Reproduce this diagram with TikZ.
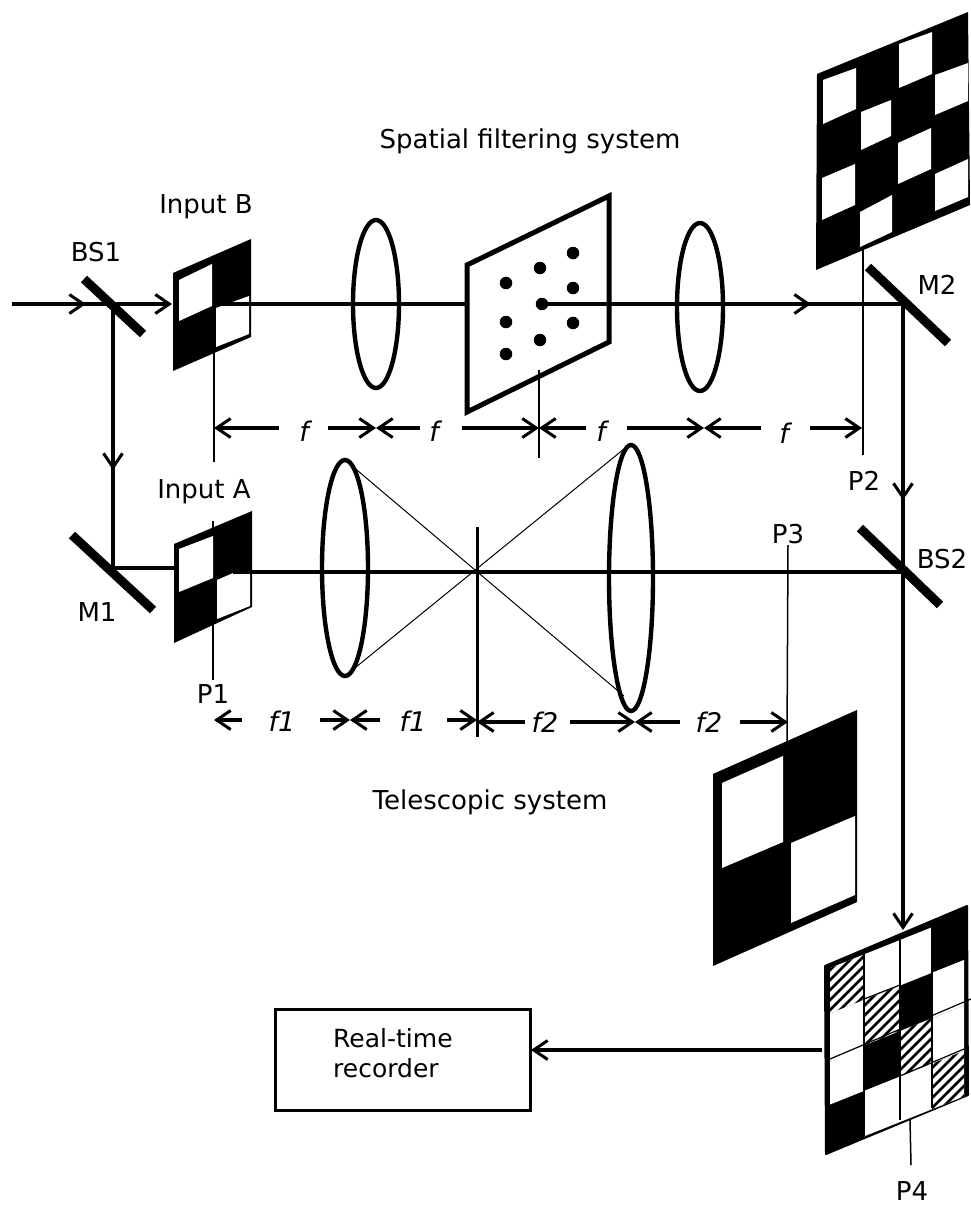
\documentclass[tikz,border=0pt]{standalone}
\usepackage{fontspec}
\setmainfont{DejaVu Sans}
\usetikzlibrary{arrows.meta}
\tikzset{
  beam/.style={line width=3.5pt,black},
  thinmark/.style={line width=1.5pt,black},
  ray/.style={line width=1pt,black},
  arr/.style={line width=3.5pt,-{Straight Barb[length=14pt,width=19pt,line width=3pt]}},
  mirror/.style={line width=9pt,black},
  lens/.style={line width=4.4pt,black},
  lbl/.style={font=\fontsize{26}{30}\selectfont,inner sep=0pt},
  reclbl/.style={font=\fontsize{25}{30}\selectfont,inner sep=0pt},
  it/.style={font=\fontsize{27}{30}\selectfont\itshape,inner sep=0pt},
  whitecell/.style={fill=white,draw=none},
  blackcell/.style={fill=black,draw=none},
  dot/.style={circle,fill=black,inner sep=0pt,minimum size=12.5pt}
}
\newcommand{\pcell}[4]{% xl xr row style
  \path[#4] ({#1},{968+45.5*#3-0.4*(#1-830)}) -- ({#2},{968+45.5*#3-0.4*(#2-830)})
    -- ({#2},{968+45.5*(#3+1)-0.4*(#2-830)}) -- ({#1},{968+45.5*(#3+1)-0.4*(#1-830)}) -- cycle;}
\newcommand{\hcell}[3]{% hatched cell
  \pcell{#1}{#2}{#3}{whitecell}
  \begin{scope}
    \clip ({#1},{968+45.5*#3-0.4*(#1-830)}) -- ({#2},{968+45.5*#3-0.4*(#2-830)})
      -- ({#2},{968+45.5*(#3+1)-0.4*(#2-830)}) -- ({#1},{968+45.5*(#3+1)-0.4*(#1-830)}) -- cycle;
    \foreach \c in {1750,1760,...,2150}{\draw[line width=2.6pt] (800,\c-800) -- (1000,\c-1000);}
  \end{scope}}
\begin{document}
\begin{tikzpicture}[x=1pt,y=-1pt]
\useasboundingbox (0,0) rectangle (971,1205);
\fill[white] (0,0) rectangle (971,1205);

% named points
\coordinate (inL) at (12,304);
\coordinate (a1) at (86,304);
\coordinate (bs1c) at (113,304);
\coordinate (a2) at (172,304);
\coordinate (bEx) at (216,304);
\coordinate (sfL) at (467,304);
\coordinate (sfC) at (542,304);
\coordinate (a3) at (811,304);
\coordinate (m2c) at (903,304);
\coordinate (a4) at (903,500);
\coordinate (bs2c) at (903,572);
\coordinate (a5) at (903,930);
\coordinate (a6) at (113,470);
\coordinate (m1c) at (113,568);
\coordinate (aIn) at (174,568);
\coordinate (aEx) at (233,572);
\coordinate (focus) at (477,571);
\coordinate (r1a) at (345,460);
\coordinate (r1b) at (624,696);
\coordinate (r2a) at (345,676);
\coordinate (r2b) at (624,449);
\coordinate (recFrom) at (822,1050);
\coordinate (recTo) at (531,1050);

% thin plane markers
\draw[thinmark] (214,347) -- (214,462);
\draw[thinmark] (539,370) -- (539,458);
\draw[thinmark] (863,250) -- (863,455);
\draw[thinmark] (213,521) -- (213,680);
\draw[thinmark] (788,545) -- (787,742);
\draw[thinmark] (910,1120) -- (911,1165);
\draw[line width=3pt] (477,527) -- (477,737);

% top-right board (P2)
\fill (817,74) -- (968,12) -- (970,205) -- (816,270) -- cycle;
\fill[white] (823,80) -- (856,68) -- (856,109) -- (823,124) -- cycle;
\fill[white] (861,112) -- (891,100) -- (891,136) -- (861,150) -- cycle;
\fill[white] (899,44) -- (932,32) -- (932,74) -- (899,88) -- cycle;
\fill[white] (935,75) -- (968,63) -- (968,101) -- (935,115) -- cycle;
\fill[white] (898,143) -- (931,128) -- (931,169) -- (898,184) -- cycle;
\fill[white] (935,174) -- (968,159) -- (968,197) -- (935,211) -- cycle;
\fill[white] (822,178) -- (855,164) -- (855,205) -- (822,220) -- cycle;
\fill[white] (860,212) -- (892,195) -- (892,232) -- (860,247) -- cycle;

% Input B board
\fill (173,273) -- (251,239) -- (251,337) -- (173,371) -- cycle;
\fill[white] (179,280) -- (212,264) -- (212,306) -- (179,321) -- cycle;
\fill[white] (216,308) -- (249,296) -- (249,334) -- (216,347) -- cycle;

% Input A board
\fill (174,544) -- (252,511) -- (252,607) -- (174,643) -- cycle;
\fill[white] (179,549) -- (213,536) -- (213,578) -- (179,592) -- cycle;
\fill[white] (217,580) -- (233,573) -- (250,573) -- (250,606) -- (217,619) -- cycle;

% P3 board
\fill (713,774) -- (857,710) -- (857,902) -- (713,966) -- cycle;
\fill[white] (722,783) -- (783,756) -- (783,842) -- (722,868) -- cycle;
\fill[white] (791,843) -- (855,816) -- (855,895) -- (791,923) -- cycle;

% P4 board
\fill[line join=round,draw=black,line width=2pt] (825,966) -- (967,906) -- (968,1095) -- (826,1154) -- cycle;
\hcell{830}{864}{0}
\pcell{864}{900}{0}{whitecell}
\pcell{900}{932}{0}{whitecell}
\pcell{830}{864}{1}{whitecell}
\hcell{864}{900}{1}
\pcell{932}{964}{1}{whitecell}
\pcell{830}{864}{2}{whitecell}
\hcell{900}{932}{2}
\pcell{932}{964}{2}{whitecell}
\pcell{864}{900}{3}{whitecell}
\pcell{900}{932}{3}{whitecell}
\hcell{932}{964}{3}
\draw[line width=1.2pt] (864,954) -- (864,1136);
\draw[line width=1.2pt] (900,940) -- (900,1120);
\draw[line width=1.2pt] (932,927) -- (932,1108);
\draw[line width=1.2pt] (830,1059) -- (971,999);
\draw[line width=1.2pt] (864,999) -- (900,985);
\draw[line width=1.2pt] (900,1076) -- (964,1049);

% spatial filter
\draw[line width=5pt,line join=miter] (467,265) -- (609,196) -- (609,342) -- (467,412) -- cycle;
\node[dot] (d1) at (506,283) {};
\node[dot] (d2) at (540,268) {};
\node[dot] (d3) at (573,253) {};
\node[dot] (d4) at (506,322) {};
\node[dot] (d5) at (542,304) {};
\node[dot] (d6) at (573,288) {};
\node[dot] (d7) at (506,354) {};
\node[dot] (d8) at (540,340) {};
\node[dot] (d9) at (573,323) {};

% lenses
\draw[lens] (376,304) ellipse [x radius=23,y radius=84];
\draw[lens] (700,307) ellipse [x radius=23,y radius=84];
\draw[lens] (345,568) ellipse [x radius=23,y radius=108];
\draw[lens] (631,578) ellipse [x radius=22,y radius=133];

% rays
\draw[ray] (r1a) -- (r1b);
\draw[ray] (r2a) -- (r2b);

% beams
\draw[beam] (inL) -- (bs1c);
\draw[arr] (inL) -- (a1);
\draw[arr] (bs1c) -- (a2);
\draw[beam] (bEx) -- (sfL);
\draw[beam] (sfC) -- (m2c);
\draw[arr] (sfC) -- (a3);
\draw[beam] (m2c) -- (bs2c);
\draw[arr] (m2c) -- (a4);
\draw[arr] (bs2c) -- (a5);
\draw[beam] (bs1c) -- (m1c);
\draw[arr] (bs1c) -- (a6);
\draw[beam] (m1c) -- (aIn);
\draw[beam] (aEx) -- (bs2c);

% mirrors
\draw[mirror] (84,279) -- (143,334);
\draw[mirror] (72,535) -- (153,610);
\draw[mirror] (868,267) -- (948,343);
\draw[mirror] (860,528) -- (940,605);

% dimension labels upper
\node[it] (f1) at (304,431) {f};
\node[it] (f2) at (434,431) {f};
\node[it] (f3) at (601,431) {f};
\node[it] (f4) at (784,433) {f};
\coordinate (u0) at (214,428);
\coordinate (u1) at (376,428);
\coordinate (u2) at (539,428);
\coordinate (u3) at (704,428);
\coordinate (u4) at (862,428);
\draw[arr] (279,428) -- (u0);
\draw[arr] (328,428) -- (u1);
\draw[arr] (420,428) -- (u1);
\draw[arr] (462,428) -- (u2);
\draw[arr] (586,428) -- (u2);
\draw[arr] (627,428) -- (u3);
\draw[arr] (761,428) -- (u3);
\draw[arr] (810,428) -- (u4);

% dimension labels lower
\node[it] (g1) at (282,721) {f1};
\node[it] (g2) at (413,721) {f1};
\node[it] (g3) at (545,722) {f2};
\node[it] (g4) at (709,722) {f2};
\coordinate (l0) at (214,720);
\coordinate (l1) at (350,720);
\coordinate (l2) at (477,720);
\coordinate (l3) at (635,722);
\coordinate (l3b) at (635,722);
\coordinate (l4) at (788,722);
\coordinate (l3a) at (570,722);
\coordinate (l2b) at (477,722);
\draw[arr] (242,720) -- (l0);
\draw[arr] (320,720) -- (l1);
\draw[arr] (380,720) -- (l1);
\draw[arr] (447,720) -- (l2);
\draw[arr] (525,722) -- (l2b);
\draw[arr] (l3a) -- (l3);
\draw[arr] (680,722) -- (l3b);
\draw[arr] (740,722) -- (l4);

% recorder
\node[draw,line width=3pt,minimum width=255pt,minimum height=101pt,inner sep=0pt] (rec) at (402.5,1059.5) {};
\node[reclbl,anchor=west] (rec1) at (333,1038) {Real-time};
\node[reclbl,anchor=west] (rec2) at (333,1068) {recorder};
\draw[arr] (recFrom) -- (recTo);

% labels
\node[lbl] (t1) at (530,141) {Spatial filtering system};
\node[lbl] (t2) at (490,802) {Telescopic system};
\node[lbl] (inB) at (206,207) {Input B};
\node[lbl] (inA) at (204,492) {Input A};
\node[lbl] (bs1) at (96,252) {BS1};
\node[lbl] (m1) at (97,612) {M1};
\node[lbl] (m2) at (937,285) {M2};
\node[lbl] (bs2) at (942,559) {BS2};
\node[lbl] (p1) at (213,694) {P1};
\node[lbl] (p2) at (864,481) {P2};
\node[lbl] (p3) at (788,534) {P3};
\node[lbl] (p4) at (912,1191) {P4};
\end{tikzpicture}
\end{document}
